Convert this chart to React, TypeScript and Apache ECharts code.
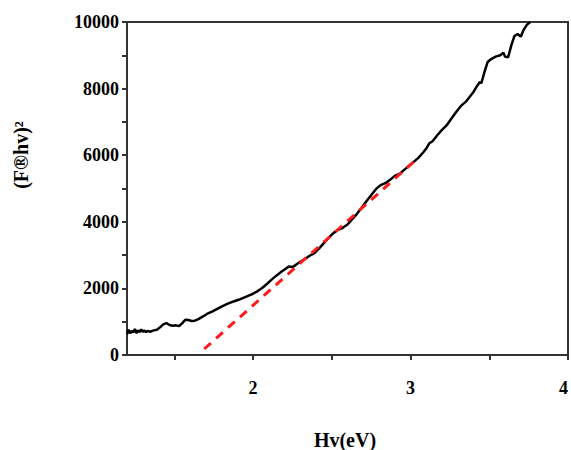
import React, { useEffect, useRef } from "react";
import * as echarts from "echarts";

const hv: number[] = [
  1.2, 1.21, 1.22, 1.23, 1.24, 1.25, 1.26, 1.27, 1.28, 1.29, 1.3, 1.31, 1.32, 1.33, 1.35, 1.37, 1.39,
  1.41, 1.43, 1.45, 1.47, 1.49, 1.51, 1.53, 1.55, 1.57, 1.59, 1.61, 1.63, 1.65, 1.68, 1.71, 1.74,
  1.77, 1.8, 1.83, 1.86, 1.89, 1.92, 1.95, 1.98, 2.0, 2.03, 2.06, 2.09, 2.12, 2.15, 2.18, 2.21,
  2.23, 2.25, 2.27, 2.3, 2.33, 2.36, 2.39, 2.42, 2.45, 2.48, 2.51, 2.54, 2.57, 2.6, 2.63, 2.66,
  2.69, 2.72, 2.75, 2.78, 2.81, 2.84, 2.87, 2.9, 2.93, 2.96, 2.99, 3.02, 3.05, 3.08, 3.1, 3.12,
  3.14, 3.17, 3.2, 3.23, 3.26, 3.29, 3.32, 3.35, 3.38, 3.4, 3.42, 3.44, 3.45, 3.47, 3.49, 3.51,
  3.54, 3.57, 3.59, 3.6, 3.62, 3.64, 3.66, 3.68, 3.7, 3.72, 3.74, 3.76,
];
const absorb: number[] = [
  620, 760, 650, 720, 680, 780, 660, 740, 690, 770, 700, 740, 690, 720, 700, 740, 760,
  830, 920, 960, 900, 880, 890, 870, 950, 1060, 1050, 1020, 1030, 1070, 1150, 1240, 1300,
  1380, 1450, 1520, 1580, 1630, 1680, 1740, 1800, 1840, 1920, 2020, 2140, 2270, 2390, 2500, 2600,
  2660, 2640, 2700, 2800, 2880, 2980, 3060, 3200, 3360, 3520, 3660, 3760, 3820, 3920, 4080, 4240,
  4420, 4620, 4800, 4980, 5100, 5160, 5260, 5380, 5440, 5560, 5680, 5800, 5920, 6080, 6200, 6360,
  6420, 6600, 6760, 6900, 7100, 7300, 7480, 7600, 7780, 7900, 8060, 8200, 8160, 8500, 8800, 8880,
  8960, 9000, 9080, 8960, 8940, 9300, 9580, 9640, 9560, 9780, 9920, 10000,
];
const fitX: number[] = [1.69, 3.02];
const fitY: number[] = [180, 5800];

const xTickValues: number[] = [1.5, 2, 2.5, 3, 3.5, 4];
const xLabelValues: number[] = [2, 3, 4];
const yTickValues: number[] = [0, 1000, 2000, 3000, 4000, 5000, 6000, 7000, 8000, 9000, 10000];
const yLabelValues: number[] = [0, 2000, 4000, 6000, 8000, 10000];

const FONT = "Liberation Serif";
const AXIS_COLOR = "#333333";

export default function App() {
  const ref = useRef<HTMLDivElement>(null);
  useEffect(() => {
    document.body.style.margin = "0";
    if (!ref.current) return;
    const chart = echarts.init(ref.current, undefined, { renderer: "svg" });
    chart.setOption({
      animation: false,
      backgroundColor: "#ffffff",
      grid: {
        left: 127,
        right: 3,
        top: 22,
        bottom: 95,
        show: true,
        borderColor: AXIS_COLOR,
        borderWidth: 2,
      },
      xAxis: {
        type: "value",
        min: 1.2,
        max: 4,
        splitLine: { show: false },
        axisLine: { show: true, lineStyle: { color: AXIS_COLOR, width: 2 } },
        axisTick: {
          show: true,
          customValues: xTickValues,
          length: 5,
          lineStyle: { color: AXIS_COLOR, width: 2 },
        },
        axisLabel: {
          customValues: xLabelValues,
          formatter: (v: number) => String(v),
          alignMaxLabel: "right",
          margin: 24,
          color: "#000",
          fontFamily: FONT,
          fontWeight: "bold",
          fontSize: 18,
        },
      },
      yAxis: {
        type: "value",
        min: 0,
        max: 10000,
        splitLine: { show: false },
        axisLine: { show: true, lineStyle: { color: AXIS_COLOR, width: 2 } },
        axisTick: {
          show: true,
          customValues: yTickValues,
          length: 5,
          lineStyle: { color: AXIS_COLOR, width: 2 },
        },
        axisLabel: {
          customValues: yLabelValues,
          formatter: (v: number) => String(v),
          margin: 8,
          color: "#000",
          fontFamily: FONT,
          fontWeight: "bold",
          fontSize: 18,
        },
      },
      series: [
        {
          type: "line",
          data: hv.map((x, i) => [x, absorb[i]]),
          showSymbol: false,
          lineStyle: { color: "#000", width: 2.5 },
          z: 2,
        },
        {
          type: "line",
          data: fitX.map((x, i) => [x, fitY[i]]),
          showSymbol: false,
          lineStyle: { color: "#ff1a1a", width: 3, type: [9, 7] },
          z: 3,
        },
      ],
      graphic: [
        {
          type: "text",
          x: 21,
          y: 155,
          rotation: Math.PI / 2,
          style: {
            text: "(F®hv)²",
            fontFamily: FONT,
            fontWeight: "bold",
            fontSize: 20,
            fill: "#000",
            align: "center",
            verticalAlign: "middle",
          },
        },
        {
          type: "text",
          x: 345,
          y: 440,
          style: {
            text: "Hv(eV)",
            fontFamily: FONT,
            fontWeight: "bold",
            fontSize: 20,
            fill: "#000",
            align: "center",
            verticalAlign: "middle",
          },
        },
      ],
    });
    return () => chart.dispose();
  }, []);
  return <div ref={ref} style={{ width: 571, height: 450 }} />;
}
